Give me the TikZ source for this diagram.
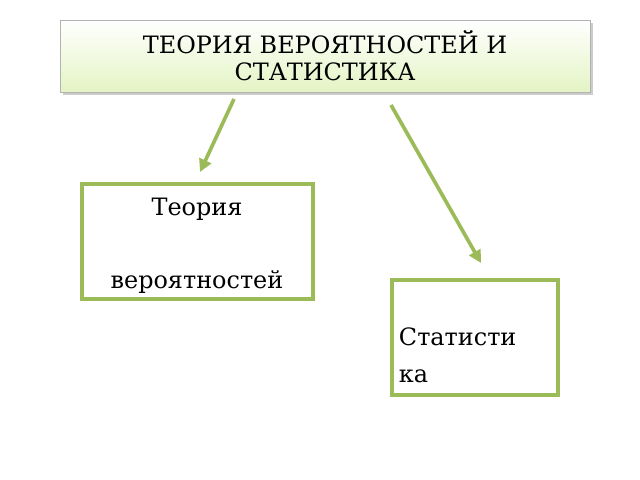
\documentclass[tikz,border=0pt]{standalone}
\usepackage{fontspec}
\setmainfont{DejaVu Serif}
\usetikzlibrary{positioning}
\usetikzlibrary{arrows.meta}
\definecolor{olive}{HTML}{9BBB59}
\definecolor{pale}{HTML}{E4F4C4}
\tikzset{
  greenbox/.style={draw=olive,line width=2.6pt,fill=white},
  greenarrow/.style={olive,line width=2.6pt,-{Triangle[length=9pt,width=9pt]}}
}
\begin{document}
\begin{tikzpicture}[x=0.025cm,y=-0.025cm]
\useasboundingbox (0,0) rectangle (640,480);

% title box
\fill[gray!40] (63,23) rectangle (593,95);
\shade[top color=white,bottom color=pale,draw=gray!60] (60,20) rectangle (590,92);
\node[align=center,font=\fontsize{17}{19}\selectfont] (title) at (325,56)
  {ТЕОРИЯ ВЕРОЯТНОСТЕЙ И\\СТАТИСТИКА};

% boxes
\draw[greenbox] (82,184) rectangle (313,299);
\node[align=center,font=\fontsize{17}{26}\selectfont] (prob) at (197,246)
  {Теория\\[\baselineskip]вероятностей};
\draw[greenbox] (392,280) rectangle (558,395);
\node[align=left,anchor=north west,font=\fontsize{17}{26}\selectfont] (stat) at (394,323)
  {Статисти\\ка};

% arrows
\coordinate (a1) at (234,99);
\coordinate (b1) at (200,172);
\coordinate (a2) at (391,105);
\coordinate (b2) at (481,263);
\draw[greenarrow] (a1) -- (b1);
\draw[greenarrow] (a2) -- (b2);
\end{tikzpicture}
\end{document}
